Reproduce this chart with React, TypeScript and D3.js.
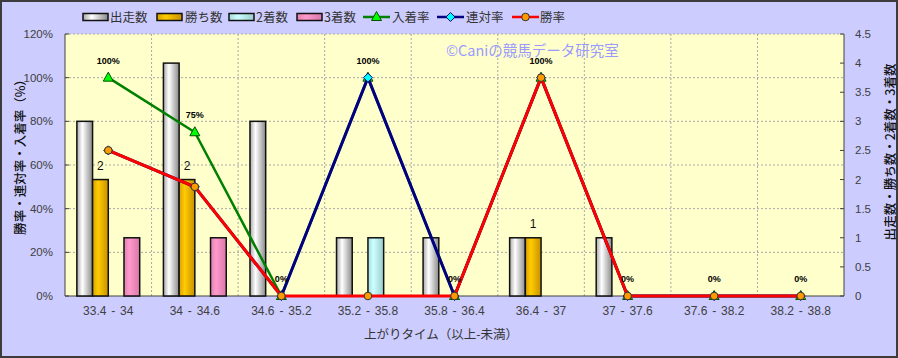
import React, { useEffect } from "react";
import * as d3 from "d3";

const categories = ["33.4 - 34", "34 - 34.6", "34.6 - 35.2", "35.2 - 35.8", "35.8 - 36.4", "36.4 - 37", "37 - 37.6", "37.6 - 38.2", "38.2 - 38.8"];
const runs = [3, 4, 3, 1, 1, 1, 1, 0, 0];
const wins = [2, 2, 0, 0, 0, 1, 0, 0, 0];
const seconds = [0, 0, 0, 1, 0, 0, 0, 0, 0];
const thirds = [1, 1, 0, 0, 0, 0, 0, 0, 0];
const winRate = [66.7, 50, 0, 0, 0, 100, 0, 0, 0];
const quinellaRate = [66.7, 50, 0, 100, 0, 100, 0, 0, 0];
const placeRate = [100, 75, 0, 100, 0, 100, 0, 0, 0];
const leftTicks = [0, 20, 40, 60, 80, 100, 120];
const rightTicks = [0, 0.5, 1, 1.5, 2, 2.5, 3, 3.5, 4, 4.5];

const W = 898, H = 358;
const L = 65, R = 844, T = 34, B = 296;
const JP = "'Noto Sans CJK JP', 'Noto Sans', sans-serif";
const NUM = "'Liberation Sans', Arial, sans-serif";

const barSeries = [
  { key: "出走数", values: runs, grad: "gWhite" },
  { key: "勝ち数", values: wins, grad: "gGold" },
  { key: "2着数", values: seconds, grad: "gCyan" },
  { key: "3着数", values: thirds, grad: "gPink" },
];

type Marker = "tri" | "dia" | "circ";
const lineSeries: { key: string; values: number[]; color: string; marker: Marker; fill: string; mstroke: string; width: number }[] = [
  { key: "入着率", values: placeRate, color: "#008000", marker: "tri", fill: "#00ff00", mstroke: "#005000", width: 2.5 },
  { key: "連対率", values: quinellaRate, color: "#000080", marker: "dia", fill: "#00ffff", mstroke: "#000080", width: 3 },
  { key: "勝率", values: winRate, color: "#ff0000", marker: "circ", fill: "#ff9900", mstroke: "#333", width: 3 },
];

function MarkerShape({ type, x, y, fill, stroke }: { type: Marker; x: number; y: number; fill: string; stroke: string }) {
  if (type === "tri") {
    return <path d={`M${x},${y - 5.5} L${x + 5},${y + 3.5} L${x - 5},${y + 3.5} Z`} fill={fill} stroke={stroke} strokeWidth={1} />;
  }
  if (type === "dia") {
    return <path d={`M${x},${y - 4.5} L${x + 4.5},${y} L${x},${y + 4.5} L${x - 4.5},${y} Z`} fill={fill} stroke={stroke} strokeWidth={1} />;
  }
  return <circle cx={x} cy={y} r={3.8} fill={fill} stroke={stroke} strokeWidth={1} />;
}

export default function App() {
  useEffect(() => {
    document.body.style.margin = "0";
  }, []);

  const x = d3.scaleBand<string>().domain(categories).range([L, R]).paddingInner(0).paddingOuter(0);
  const xb = d3.scaleBand<string>().domain(barSeries.map((s) => s.key)).range([0, x.bandwidth()]).paddingInner(0).paddingOuter(0.755);
  const yL = d3.scaleLinear().domain([0, 120]).range([B, T]);
  const yR = d3.scaleLinear().domain([0, 4.5]).range([B, T]);
  const cx = (c: string) => (x(c) as number) + x.bandwidth() / 2;

  const line = (vals: number[]) =>
    d3.line<number>().x((_, i) => cx(categories[i])).y((v) => yL(v))(vals) as string;

  const legendItems = [
    { kind: "bar", key: "出走数", grad: "gWhite", sx: 83, tx: 110 },
    { kind: "bar", key: "勝ち数", grad: "gGold", sx: 157, tx: 185 },
    { kind: "bar", key: "2着数", grad: "gCyan", sx: 229, tx: 256 },
    { kind: "bar", key: "3着数", grad: "gPink", sx: 297, tx: 324 },
    { kind: "line", key: "入着率", idx: 0, sx: 363, tx: 392 },
    { kind: "line", key: "連対率", idx: 1, sx: 437, tx: 466 },
    { kind: "line", key: "勝率", idx: 2, sx: 512, tx: 540 },
  ];
  const legY = 17;

  return (
    <svg width={W} height={H} style={{ display: "block" }} xmlns="http://www.w3.org/2000/svg">
      <defs>
        <linearGradient id="gWhite" x1="0" x2="1" y1="0" y2="0">
          <stop offset="0" stopColor="#a8a8a8" />
          <stop offset="0.35" stopColor="#ffffff" />
          <stop offset="1" stopColor="#8a8a8a" />
        </linearGradient>
        <linearGradient id="gGold" x1="0" x2="1" y1="0" y2="0">
          <stop offset="0" stopColor="#d9a000" />
          <stop offset="0.35" stopColor="#ffcc00" />
          <stop offset="1" stopColor="#c89000" />
        </linearGradient>
        <linearGradient id="gCyan" x1="0" x2="1" y1="0" y2="0">
          <stop offset="0" stopColor="#a8dcdc" />
          <stop offset="0.35" stopColor="#ccffff" />
          <stop offset="1" stopColor="#9ccccc" />
        </linearGradient>
        <linearGradient id="gPink" x1="0" x2="1" y1="0" y2="0">
          <stop offset="0" stopColor="#e080b0" />
          <stop offset="0.35" stopColor="#ff99cc" />
          <stop offset="1" stopColor="#d878a8" />
        </linearGradient>
      </defs>

      <rect x={1} y={1} width={W - 2} height={H - 2} fill="#ccccff" stroke="#3c3c3c" strokeWidth={2} />
      <rect x={L} y={T} width={R - L} height={B - T} fill="#ffffcc" />

      {leftTicks.filter((t) => t > 0).map((t) => (
        <line key={"hg" + t} x1={L} x2={R} y1={yL(t)} y2={yL(t)} stroke="#a8a8a8" strokeWidth={1} strokeDasharray="2,2" />
      ))}
      {categories.slice(1).map((c) => (
        <line key={"vg" + c} x1={x(c)} x2={x(c)} y1={T} y2={B} stroke="#a8a8a8" strokeWidth={1} strokeDasharray="2,2" />
      ))}

      <text x={446} y={56} fontFamily={JP} fontSize={14.5} fill="#9a9aff">©Caniの競馬データ研究室</text>

      <line x1={L} x2={L} y1={T} y2={B} stroke="#404040" strokeWidth={1} />
      <line x1={R} x2={R} y1={T} y2={B} stroke="#404040" strokeWidth={1} />
      <line x1={L} x2={R} y1={B} y2={B} stroke="#404040" strokeWidth={1} />
      {leftTicks.map((t) => (
        <g key={"lt" + t}>
          <line x1={L} x2={L + 4} y1={yL(t)} y2={yL(t)} stroke="#404040" />
          <text x={53} y={yL(t)} dy="0.35em" textAnchor="end" fontFamily={NUM} fontSize={11.5} fill="#404040">{t}%</text>
        </g>
      ))}
      {rightTicks.map((t) => (
        <g key={"rt" + t}>
          <line x1={R - 4} x2={R} y1={yR(t)} y2={yR(t)} stroke="#404040" />
          <text x={855} y={yR(t)} dy="0.35em" textAnchor="start" fontFamily={NUM} fontSize={11.5} fill="#404040">{t}</text>
        </g>
      ))}
      {categories.map((c) => (
        <text key={"cl" + c} x={cx(c)} y={311} dy="0.35em" textAnchor="middle" fontFamily={NUM} fontSize={12} fill="#404040" wordSpacing={1.5}>{c}</text>
      ))}

      <text transform={`translate(25,154) rotate(-90)`} textAnchor="middle" fontFamily={JP} fontSize={12.5} fontWeight={500} fill="#111">勝率・連対率・入着率（%）</text>
      <text transform={`translate(895,152) rotate(-90)`} textAnchor="middle" fontFamily={JP} fontSize={12.5} fontWeight={500} fill="#111">出走数・勝ち数・2着数・3着数</text>
      <text x={441} y={339} textAnchor="middle" fontFamily={JP} fontSize={12.5} fill="#333">上がりタイム（以上-未満）</text>

      {barSeries.map((s) =>
        s.values.map((v, i) =>
          v > 0 ? (
            <rect
              key={s.key + i}
              x={(x(categories[i]) as number) + (xb(s.key) as number)}
              y={yR(v)}
              width={xb.bandwidth()}
              height={B - yR(v)}
              fill={`url(#${s.grad})`}
              stroke="#111"
              strokeWidth={1.5}
            />
          ) : null
        )
      )}
      {wins.map((v, i) =>
        v > 0 ? (
          <text key={"wl" + i} x={(x(categories[i]) as number) + (xb("勝ち数") as number) + xb.bandwidth() / 2} y={yR(v) - 14} dy="0.35em" textAnchor="middle" fontFamily={NUM} fontSize={12} fill="#111">{v}</text>
        ) : null
      )}

      {lineSeries.map((s) => (
        <g key={s.key}>
          <path d={line(s.values)} fill="none" stroke={s.color} strokeWidth={s.width} strokeLinejoin="round" />
          {s.values.map((v, i) => (
            <MarkerShape key={i} type={s.marker} x={cx(categories[i])} y={yL(v)} fill={s.fill} stroke={s.mstroke} />
          ))}
        </g>
      ))}
      {placeRate.map((v, i) => (
        <text key={"pl" + i} x={cx(categories[i])} y={yL(v) - 17} dy="0.35em" textAnchor="middle" fontFamily={NUM} fontSize={9} fontWeight="bold" fill="#000">{v}%</text>
      ))}

      {legendItems.map((it) => (
        <g key={"lg" + it.key}>
          {it.kind === "bar" ? (
            <rect x={it.sx} y={legY - 3.5} width={25} height={7} fill={`url(#${it.grad})`} stroke="#111" strokeWidth={1.5} />
          ) : (
            <g>
              <line x1={it.sx} x2={it.sx + 27} y1={legY} y2={legY} stroke={lineSeries[it.idx as number].color} strokeWidth={2.5} />
              <MarkerShape type={lineSeries[it.idx as number].marker} x={it.sx + 13.5} y={legY} fill={lineSeries[it.idx as number].fill} stroke={lineSeries[it.idx as number].mstroke} />
            </g>
          )}
          <text x={it.tx} y={legY} dy="0.36em" fontFamily={JP} fontSize={12.5} fill="#333">{it.key}</text>
        </g>
      ))}
    </svg>
  );
}
